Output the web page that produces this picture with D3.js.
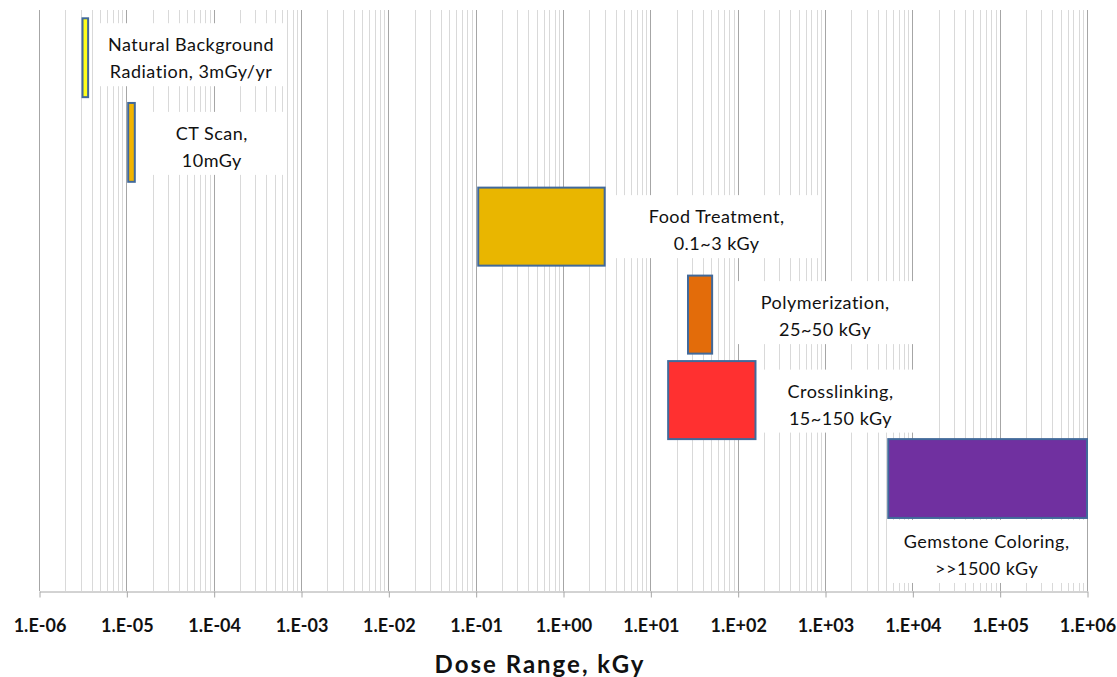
<!DOCTYPE html>
<html>
<head>
<meta charset="utf-8">
<script src="https://cdn.jsdelivr.net/npm/d3@7"></script>
<style>
	body { margin: 0; background: #fff; }
	text { font-family: Lato, "Open Sans", sans-serif; fill: #111; }
</style>
</head>
<body>
<svg id="chart" width="1117" height="677"></svg>
<script>

// dose ranges in kGy, row spans in arbitrary row units
var g_names = ["Natural Background", "CT Scan", "Food Treatment", "Polymerization", "Crosslinking", "Gemstone Coloring"];
var g_labelLines = [
	["Natural Background", "Radiation, 3mGy/yr"],
	["CT Scan,", "10mGy"],
	["Food Treatment,", "0.1~3 kGy"],
	["Polymerization,", "25~50 kGy"],
	["Crosslinking,", "15~150 kGy"],
	["Gemstone Coloring,", ">>1500 kGy"]
];
var g_doseMin = [3.15e-6, 1.05e-5, 0.107, 27, 16, 5300];
var g_doseMax = [3.65e-6, 1.25e-5, 3.0, 51, 160, 1e6];
var g_rowLow = [5.95, 4.93, 3.92, 2.86, 1.83, 0.88];
var g_rowHigh = [6.90, 5.88, 4.86, 3.80, 2.77, 1.83];
var g_tickExponents = [-6, -5, -4, -3, -2, -1, 0, 1, 2, 3, 4, 5, 6];

// look
var g_colors = ["#ffff1a", "#f2b400", "#e9b600", "#e36c0a", "#ff3030", "#7030a0"];
// label box: center offset from bar right edge (or bar center for "below"), width
var g_labelLayout = [
	{dx: 103, dy: -3, w: 185, below: false},
	{dx: 77, dy: 1, w: 148, below: false},
	{dx: 112, dy: 0, w: 207, below: false},
	{dx: 113, dy: -2, w: 178, below: false},
	{dx: 85, dy: 1, w: 160, below: false},
	{dx: -1, dy: 2, w: 199, below: true}
];

var margin = {left: 39, right: 30, top: 10, bottom: 86};
var width = 1117, height = 677;
var plotBottom = height - margin.bottom;

var svg = d3.select("#chart");

var x = d3.scaleLog()
	.domain([1e-6, 1e6])
	.range([margin.left, width - margin.right]);

var y = d3.scaleLinear()
	.domain([0, 7])
	.range([plotBottom, margin.top]);

// gridlines
var minorTicks = [];
g_tickExponents.slice(0, -1).forEach(function(e){
	for (var m = 2; m <= 9; m++) minorTicks.push(m * Math.pow(10, e));
});
var majorTicks = g_tickExponents.map(function(e){ return Math.pow(10, e); });

svg.append("g").selectAll("line")
	.data(minorTicks)
	.join("line")
	.attr("x1", d => Math.round(x(d)) + 0.5)
	.attr("x2", d => Math.round(x(d)) + 0.5)
	.attr("y1", margin.top)
	.attr("y2", plotBottom)
	.attr("stroke", "#d9d9d9")
	.attr("stroke-width", 1);

svg.append("g").selectAll("line")
	.data(majorTicks)
	.join("line")
	.attr("x1", d => Math.round(x(d)) + 0.5)
	.attr("x2", d => Math.round(x(d)) + 0.5)
	.attr("y1", margin.top)
	.attr("y2", plotBottom)
	.attr("stroke", "#a6a6a6")
	.attr("stroke-width", 1);

// label boxes and bars
var rows = g_names.map(function(name, i){
	return {
		name: name,
		lines: g_labelLines[i],
		x0: g_doseMin[i], x1: g_doseMax[i],
		y0: g_rowLow[i], y1: g_rowHigh[i],
		color: g_colors[i],
		layout: g_labelLayout[i]
	};
});

var boxH = 63;
rows.forEach(function(r){
	var l = r.layout;
	var cx, cy;
	if (l.below){
		cx = (x(r.x0) + x(r.x1)) / 2 + l.dx;
		cy = y(r.y0) + boxH / 2 + l.dy;
	} else {
		cx = x(r.x1) + l.dx;
		cy = (y(r.y0) + y(r.y1)) / 2 + l.dy;
	}
	r.cx = cx; r.cy = cy;
	svg.append("rect")
		.attr("x", cx - l.w / 2)
		.attr("y", cy - boxH / 2)
		.attr("width", l.w)
		.attr("height", boxH)
		.attr("fill", "#fff");
});

svg.append("g").selectAll("rect")
	.data(rows)
	.join("rect")
	.attr("x", d => x(d.x0))
	.attr("y", d => y(d.y1))
	.attr("width", d => x(d.x1) - x(d.x0))
	.attr("height", d => y(d.y0) - y(d.y1))
	.attr("fill", d => d.color)
	.attr("stroke", "#41699a")
	.attr("stroke-width", 2);

rows.forEach(function(r){
	var t = svg.append("text")
		.attr("text-anchor", "middle")
		.attr("font-size", 18)
		.attr("letter-spacing", 0.5);
	r.lines.forEach(function(line, k){
		t.append("tspan")
			.attr("x", r.cx)
			.attr("y", r.cy - boxH / 2 + 28 + k * 27)
			.text(line);
	});
});

// axis
var axis = d3.axisBottom(x)
	.tickValues(majorTicks)
	.tickSize(6)
	.tickSizeOuter(0)
	.tickPadding(22)
	.tickFormat(function(d){
		var e = Math.round(Math.log10(d));
		var s = e < 0 ? "-" : "+";
		return "1.E" + s + String(Math.abs(e)).padStart(2, "0");
	});

var gAxis = svg.append("g")
	.attr("transform", `translate(0.5,${plotBottom + 0.5})`)
	.call(axis);
gAxis.select(".domain").attr("stroke", "#a6a6a6");
gAxis.selectAll(".tick line").attr("stroke", "#a6a6a6");
gAxis.selectAll(".tick text")
	.attr("font-family", "Lato, sans-serif")
	.attr("font-size", 18)
	.attr("font-weight", "bold")
	.attr("fill", "#111");

svg.append("text")
	.attr("x", 540)
	.attr("y", 673)
	.attr("text-anchor", "middle")
	.attr("font-size", 24)
	.attr("font-weight", "bold")
	.attr("letter-spacing", 2)
	.text("Dose Range, kGy");

</script>
</body>
</html>
